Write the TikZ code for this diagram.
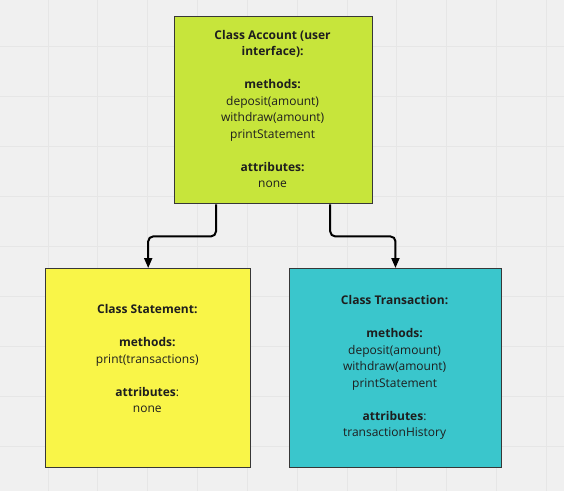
\documentclass[tikz,border=0pt]{standalone}
\usepackage{fontspec}
\setmainfont{Open Sans}
\usetikzlibrary{arrows.meta,calc}
\definecolor{bgc}{RGB}{240,240,240}
\definecolor{gridc}{RGB}{230,230,230}
\definecolor{limec}{RGB}{199,229,59}
\definecolor{yellc}{RGB}{249,245,72}
\definecolor{tealc}{RGB}{58,198,204}
\definecolor{edgec}{RGB}{55,55,55}
\definecolor{txtc}{RGB}{30,30,30}
\tikzset{
  classbox/.style={draw=edgec, line width=1.4bp, inner sep=0pt, anchor=north west},
  boxtext/.style={align=center, text=txtc, inner sep=0pt, font=\fontsize{12bp}{16.5bp}\selectfont},
  conn/.style={draw=black, line width=2bp, rounded corners=5bp, -{Triangle[width=8bp,length=10bp]}}
}
\begin{document}
\begin{tikzpicture}[x=1bp,y=-1bp]
\useasboundingbox (0,0) rectangle (564,491);
\fill[bgc] (0,0) rectangle (564,491);
\foreach \i in {0,...,11} {
  \draw[gridc, line width=1bp] (48+49.85*\i,0) -- (48+49.85*\i,491);
}
\foreach \j in {0,...,9} {
  \draw[gridc, line width=1bp] (0,46.5+50*\j) -- (564,46.5+50*\j);
}
\node[classbox, fill=limec, minimum width=198bp, minimum height=187bp] (acct) at (173.5,16) {};
\node[classbox, fill=yellc, minimum width=205bp, minimum height=199bp] (stmt) at (45,268) {};
\node[classbox, fill=tealc, minimum width=212.5bp, minimum height=199bp] (trans) at (288.5,268) {};
\node[boxtext] (acctText) at (272.6,109) {\textbf{Class Account (user}\\\textbf{interface):}\\[16.5bp]\textbf{methods:}\\deposit(amount)\\withdraw(amount)\\printStatement\\[16.5bp]\textbf{attributes:}\\none};
\node[boxtext] (stmtText) at (147.3,358.5) {\textbf{Class Statement:}\\[16.5bp]\textbf{methods:}\\print(transactions)\\[16.5bp]\textbf{attributes}:\\none};
\node[boxtext] (transText) at (394.6,367.5) {\textbf{Class Transaction:}\\[16.5bp]\textbf{methods:}\\deposit(amount)\\withdraw(amount)\\printStatement\\[16.5bp]\textbf{attributes}:\\transactionHistory};
\draw[conn] ($(acct.south west)+(42.5,0)$) coordinate (s1) -- ++(0,32) -| (stmt.north);
\draw[conn] ($(acct.south east)+(-42.7,0)$) coordinate (s2) -- ++(0,32) -| (trans.north);
\end{tikzpicture}
\end{document}
